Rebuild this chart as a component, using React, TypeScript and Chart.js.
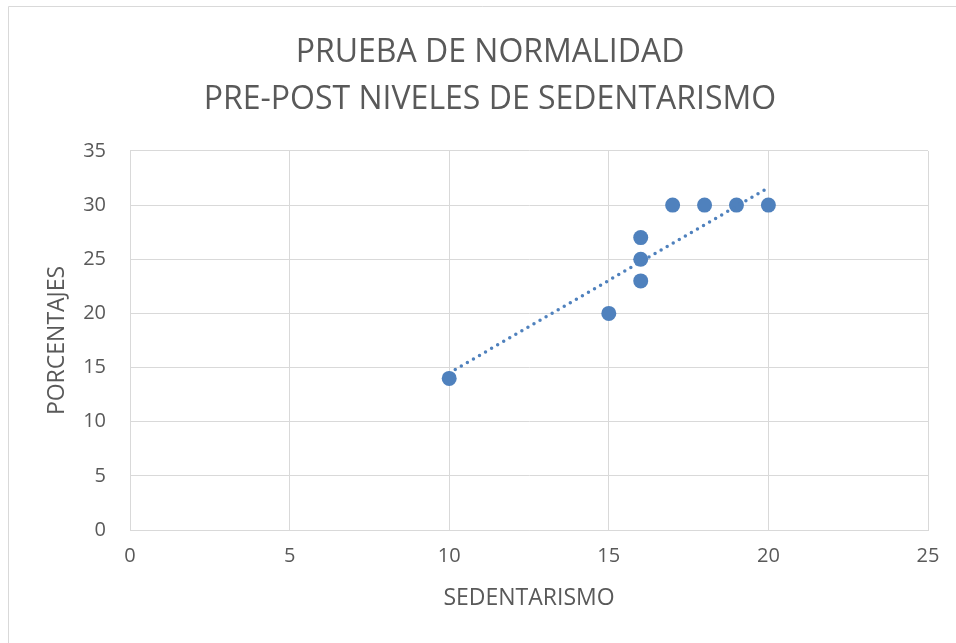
import React, { useEffect, useRef } from "react";
import { Chart, registerables } from "chart.js";

Chart.register(...registerables);

const titleLines = ["PRUEBA DE NORMALIDAD", "PRE-POST NIVELES DE SEDENTARISMO"];
const xAxisTitle = "SEDENTARISMO";
const yAxisTitle = "PORCENTAJES";
const sedentarismo = [10, 15, 16, 16, 16, 17, 18, 19, 20];
const porcentajes = [14, 20, 23, 25, 27, 30, 30, 30, 30];
const trendX = [10, 20];
const trendY = [14.5, 31.6];

const FONT = "'Open Sans', sans-serif";
const TEXT = "#595959";
const GRID = "#d9d9d9";
const BLUE = "#4f81bd";

const frame = {
  id: "frame",
  beforeDraw(chart: any) {
    const ctx = chart.ctx;
    ctx.save();
    ctx.fillStyle = "#ffffff";
    ctx.fillRect(0, 0, chart.width, chart.height);
    ctx.strokeStyle = GRID;
    ctx.lineWidth = 1;
    ctx.beginPath();
    ctx.moveTo(8.5, chart.height);
    ctx.lineTo(8.5, 6.5);
    ctx.lineTo(chart.width, 6.5);
    ctx.stroke();
    ctx.restore();
  },
};

export default function App() {
  const ref = useRef<HTMLCanvasElement>(null);
  useEffect(() => {
    if (!ref.current) return;
    const chart = new Chart(ref.current, {
      type: "scatter",
      data: {
        datasets: [
          {
            label: "Tendencia",
            data: trendX.map((x, i) => ({ x, y: trendY[i] })),
            showLine: true,
            borderColor: BLUE,
            borderWidth: 3.5,
            borderDash: [0, 7],
            borderCapStyle: "round",
            pointRadius: 0,
            order: 0,
          } as any,
          {
            label: "Datos",
            data: sedentarismo.map((x, i) => ({ x, y: porcentajes[i] })),
            backgroundColor: BLUE,
            borderColor: BLUE,
            pointRadius: 7.5,
            pointBorderWidth: 0,
            order: 1,
          },
        ],
      },
      options: {
        responsive: false,
        animation: false,
        layout: { padding: { left: 52, right: 28, top: 0, bottom: 0 } },
        plugins: {
          legend: { display: false },
          tooltip: { enabled: false },
          title: {
            display: true,
            text: titleLines,
            color: TEXT,
            font: { family: FONT, size: 32, weight: "normal", lineHeight: 1.46 },
            padding: { top: 30, bottom: 27.5 },
          },
        },
        scales: {
          x: {
            type: "linear",
            min: 0,
            max: 25,
            ticks: { stepSize: 5, color: TEXT, font: { family: FONT, size: 20 }, padding: 14 },
            grid: { color: GRID, drawTicks: false, lineWidth: 1 },
            border: { color: GRID },
            title: {
              display: true,
              text: xAxisTitle,
              color: TEXT,
              font: { family: FONT, size: 23, lineHeight: 1.2 },
              padding: { bottom: 31 },
            },
            afterFit(scale: any) {
              scale.height = 113;
            },
          },
          y: {
            type: "linear",
            min: 0,
            max: 35,
            ticks: { stepSize: 5, color: TEXT, font: { family: FONT, size: 20 }, padding: 24 },
            grid: { color: GRID, drawTicks: false, lineWidth: 1 },
            border: { color: GRID },
            title: {
              display: true,
              text: yAxisTitle,
              color: TEXT,
              font: { family: FONT, size: 23, lineHeight: 1.2 },
              padding: { top: -8 },
            },
            afterFit(scale: any) {
              scale.width = 78;
            },
          },
        },
      },
      plugins: [frame],
    });
    return () => chart.destroy();
  }, []);
  return (
    <div style={{ position: "fixed", left: 0, top: 0, width: 956, height: 643 }}>
      <canvas ref={ref} width={956} height={643} />
    </div>
  );
}
